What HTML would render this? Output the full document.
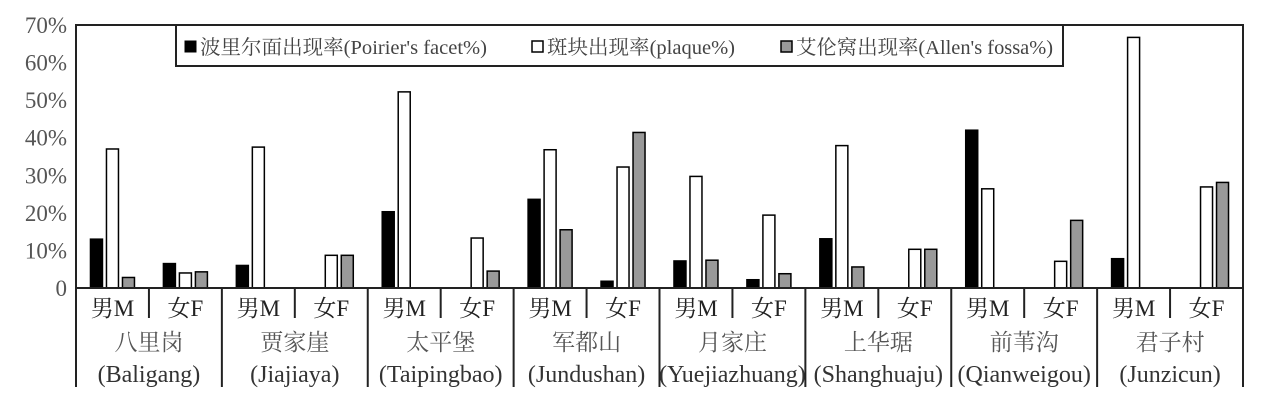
<!DOCTYPE html>
<html><head><meta charset="utf-8"><style>
html,body{margin:0;padding:0;background:#fff;}
svg{display:block;font-family:"Liberation Serif","Noto Serif CJK SC","Noto Sans CJK SC",serif;}
</style></head><body>
<svg id="chart" width="1262" height="400" xmlns="http://www.w3.org/2000/svg"></svg>
<script>
const sites = ["八里岗","贾家崖","太平堡","军都山","月家庄","上华琚","前苇沟","君子村"];
const sitesEn = ["(Baligang)","(Jiajiaya)","(Taipingbao)","(Jundushan)","(Yuejiazhuang)","(Shanghuaju)","(Qianweigou)","(Junzicun)"];
const sexes = ["男M","女F"];
const poirier = [13,6.5, 6,0, 20.3,0, 23.6,1.8, 7.2,2.2, 13.1,0, 42,0, 7.8,0];
const plaque = [37,4, 37.5,8.7, 52.2,13.3, 36.8,32.2, 29.7,19.4, 37.9,10.3, 26.4,7.1, 66.7,26.9];
const allen = [2.8,4.3, 0,8.7, 0,4.5, 15.5,41.4, 7.4,3.8, 5.6,10.3, 0,18, 0,28.1];
const yTicks = [0,10,20,30,40,50,60,70];
const yTickLabels = ["0","10%","20%","30%","40%","50%","60%","70%"];

const svg = document.getElementById('chart');
const NS = "http://www.w3.org/2000/svg";
const X0=76, X1=1243, Y0=288, Y1=25;
const sub = (X1-X0)/16;
function y(v){return Y0-(v/70)*(Y0-Y1);}
function mk(tag,attrs,parent){const e=document.createElementNS(NS,tag);for(const k in attrs)e.setAttribute(k,attrs[k]);(parent||svg).appendChild(e);return e;}
function txt(s,x,yy,size,fill,anchor){const t=mk('text',{x:x,y:yy,'font-size':size,fill:fill,'text-anchor':anchor||'middle'});t.textContent=s;return t;}

yTicks.forEach((v,i)=>{
  const t=txt(yTickLabels[i],67,y(v)+8,23,'#555','end');
  
  
});
const series=[[poirier,'#000','poirier'],[plaque,'#fff','plaque'],[allen,'#999','allen']];
for(let i=0;i<16;i++){
  const cx=X0+sub*(i+0.5);
  series.forEach((s,j)=>{
    const v=s[0][i]; if(v<=0) return;
    const r=mk('rect',{x:cx-22+j*16,y:y(v),width:12,height:Y0-y(v),fill:s[1],stroke:'#000','stroke-width':1.5});
    
    
  });
}
const fr=mk('path',{d:`M${X0} ${Y0}V${Y1}H${X1}V387`,fill:'none',stroke:'#222','stroke-width':2});


const ax=mk('line',{x1:X0,y1:Y0,x2:X1,y2:Y0,stroke:'#222','stroke-width':2});


mk('line',{x1:X0,y1:Y0,x2:X0,y2:387,stroke:'#222','stroke-width':2});
for(let g=0;g<8;g++){
  const gx=X0+sub*2*g;
  if(g>0) mk('line',{x1:gx,y1:Y0,x2:gx,y2:387,stroke:'#222','stroke-width':2});
  mk('line',{x1:gx+sub,y1:Y0,x2:gx+sub,y2:318,stroke:'#222','stroke-width':2});
  sexes.forEach((s,k)=>{
    const t=txt(s,gx+sub*(k+0.5),316,23,'#222');
    
    
  });
  const a=txt(sites[g],gx+sub,350,23,'#555');
  
  
  const b=txt(sitesEn[g],gx+sub,382,24,'#333');
  
  
}
</script>
<svg style="position:absolute;left:0;top:0" width="1262" height="400">
  <rect x="176" y="25" width="887" height="41" fill="#fff" stroke="#222" stroke-width="2"/>
  <g>
    <rect x="185" y="41" width="11" height="11" fill="#000" stroke="#000"/>
    <text x="200" y="54" font-size="20" fill="#444" textLength="287" lengthAdjust="spacingAndGlyphs" font-family="Liberation Serif,Noto Serif CJK SC,serif">波里尔面出现率(Poirier's facet%)</text>
  </g>
  <g>
    <rect x="532" y="41" width="11" height="11" fill="#fff" stroke="#000" stroke-width="1.5"/>
    <text x="547" y="54" font-size="20" fill="#444" textLength="188" lengthAdjust="spacingAndGlyphs" font-family="Liberation Serif,Noto Serif CJK SC,serif">斑块出现率(plaque%)</text>
  </g>
  <g>
    <rect x="781" y="41" width="11" height="11" fill="#999" stroke="#000" stroke-width="1.5"/>
    <text x="796" y="54" font-size="20" fill="#444" textLength="257" lengthAdjust="spacingAndGlyphs" font-family="Liberation Serif,Noto Serif CJK SC,serif">艾伦窝出现率(Allen's fossa%)</text>
  </g>
</svg>
</body></html>
